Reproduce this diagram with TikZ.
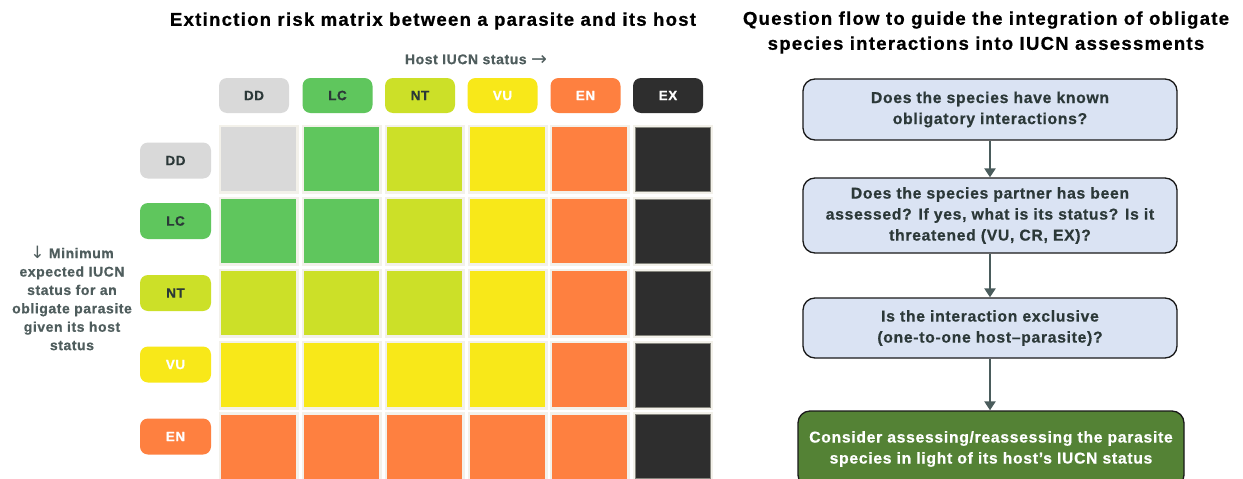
\documentclass[tikz,border=0pt]{standalone}
\usepackage{fontspec}
\setmainfont{Liberation Sans}
\newfontfamily\titlef{Liberation Sans}[LetterSpace=7, BoldFeatures={FakeBold=0.8}]
\newfontfamily\boxf{Liberation Sans}[LetterSpace=4.5, BoldFeatures={FakeBold=0.6}]
\newfontfamily\labf{Liberation Sans}[LetterSpace=4, BoldFeatures={FakeBold=0.6}]
\newfontfamily\symf{DejaVu Sans}
\usetikzlibrary{arrows.meta}
\definecolor{cDD}{HTML}{D9D9D9}
\definecolor{cLC}{HTML}{5FC65D}
\definecolor{cNT}{HTML}{CCE028}
\definecolor{cVU}{HTML}{F8E819}
\definecolor{cEN}{HTML}{FE8040}
\definecolor{cEX}{HTML}{2E2E2E}
\definecolor{cframe}{HTML}{F3F1EA}
\definecolor{axis}{HTML}{4F5D5D}
\definecolor{dtext}{HTML}{2B3838}
\definecolor{qfill}{HTML}{DAE3F3}
\definecolor{gfill}{HTML}{548235}
\definecolor{arrowc}{HTML}{4A5C5C}
\definecolor{exline}{HTML}{85857D}
\newcommand\colname[1]{\ifcase#1 cDD\or cLC\or cNT\or cVU\or cEN\or cEX\fi}
\begin{document}
\begin{tikzpicture}[x=1pt,y=-1pt,
  lab/.style={rounded corners=8pt, minimum width=70pt, minimum height=35pt, inner sep=0pt,
    fill=#1, font=\labf\bfseries\fontsize{13.5}{16}\selectfont},
  dk/.style={text=dtext},
  wt/.style={text=white},
  cell/.style={fill=#1, minimum width=75pt, minimum height=64pt, inner sep=0pt, outer sep=0pt,
    preaction={draw=cframe, line width=5pt}},
  exc/.style={draw=exline, line width=0.8pt},
  q/.style={draw=black!90, line width=1.3pt, rounded corners=12pt, fill=qfill, minimum width=374pt,
    align=center, text=dtext, inner sep=0pt, font=\boxf\bfseries\fontsize{15.7}{21}\selectfont},
  arr/.style={draw=arrowc, line width=2.5pt, -{Triangle[width=11pt,length=9pt]}},
  ttl/.style={font=\titlef\bfseries\fontsize{18.5}{25}\selectfont, text=black, align=center, inner sep=0pt},
  axl/.style={font=\labf\bfseries\fontsize{14}{18.4}\selectfont, text=axis, align=center, inner sep=0pt}
]
\clip (0,0) rectangle (1243,479);
\fill[white] (0,0) rectangle (1243,479);

% titles
\node[ttl] (t1) at (433,21) {Extinction risk matrix between a parasite and its host};
\node[ttl] (t2) at (986,32.5) {Question flow to guide the integration of obligate\\species interactions into IUCN assessments};

% axis labels
\node[axl] (hostlab) at (476,60) {Host IUCN status \raisebox{-1.5pt}{\symf\mdseries\fontsize{19}{19}\selectfont →}};
\node[axl] (paralab) at (72,298) {{\symf\mdseries\fontsize{17}{17}\selectfont ↓}\ Minimum\\expected IUCN\\status for an\\obligate parasite\\given its host\\status};

% column headers
\node[lab=cDD,dk] (hDD) at (254,95.5) {DD};
\node[lab=cLC,dk] (hLC) at (337.5,95.5) {LC};
\node[lab=cNT,dk] (hNT) at (420,95.5) {NT};
\node[lab=cVU,wt] (hVU) at (502.5,95.5) {VU};
\node[lab=cEN,wt] (hEN) at (585.5,95.5) {EN};
\node[lab=cEX,wt] (hEX) at (668,95.5) {EX};

% row headers
\node[lab=cDD,dk,minimum width=71pt,minimum height=36pt] (rDD) at (175.5,160.5) {DD};
\node[lab=cLC,dk,minimum width=71pt,minimum height=36pt] (rLC) at (175.5,221) {LC};
\node[lab=cNT,dk,minimum width=71pt,minimum height=36pt] (rNT) at (175.5,293) {NT};
\node[lab=cVU,wt,minimum width=71pt,minimum height=36pt] (rVU) at (175.5,364.5) {VU};
\node[lab=cEN,wt,minimum width=71pt,minimum height=36pt] (rEN) at (175.5,436.5) {EN};

% matrix cells
\foreach \r/\y in {0/159,1/231,2/303,3/375,4/446.5}{
  \foreach \c/\x in {0/258.5,1/341.5,2/424.5,3/507.5,4/589.5,5/673}{
    \pgfmathtruncatemacro\m{max(\r,\c)}
    \edef\cc{\colname{\m}}
    \ifnum\c=5 \def\extra{exc}\else\def\extra{}\fi
    \node[cell=\cc,\extra] (cell-\r-\c) at (\x,\y) {};
  }
}

% flow boxes
\node[q, minimum height=61pt] (b1) at (990,109.5) {Does the species have known\\obligatory interactions?};
\node[q, minimum height=75pt] (b2) at (990,215.5) {Does the species partner has been\\assessed? If yes, what is its status? Is it\\threatened (VU, CR, EX)?};
\node[q, minimum height=60pt] (b3) at (990,328) {Is the interaction exclusive\\(one-to-one host–parasite)?};
\node[q, fill=gfill, text=white, minimum width=386pt, minimum height=76pt] (b4) at (991,449) {Consider assessing/reassessing the parasite\\species in light of its host’s IUCN status};

\draw[arr] (b1.south) -- (b2.north);
\draw[arr] (b2.south) -- (b3.north);
\draw[arr] (b3.south) -- (b3.south |- b4.north);
\end{tikzpicture}
\end{document}
